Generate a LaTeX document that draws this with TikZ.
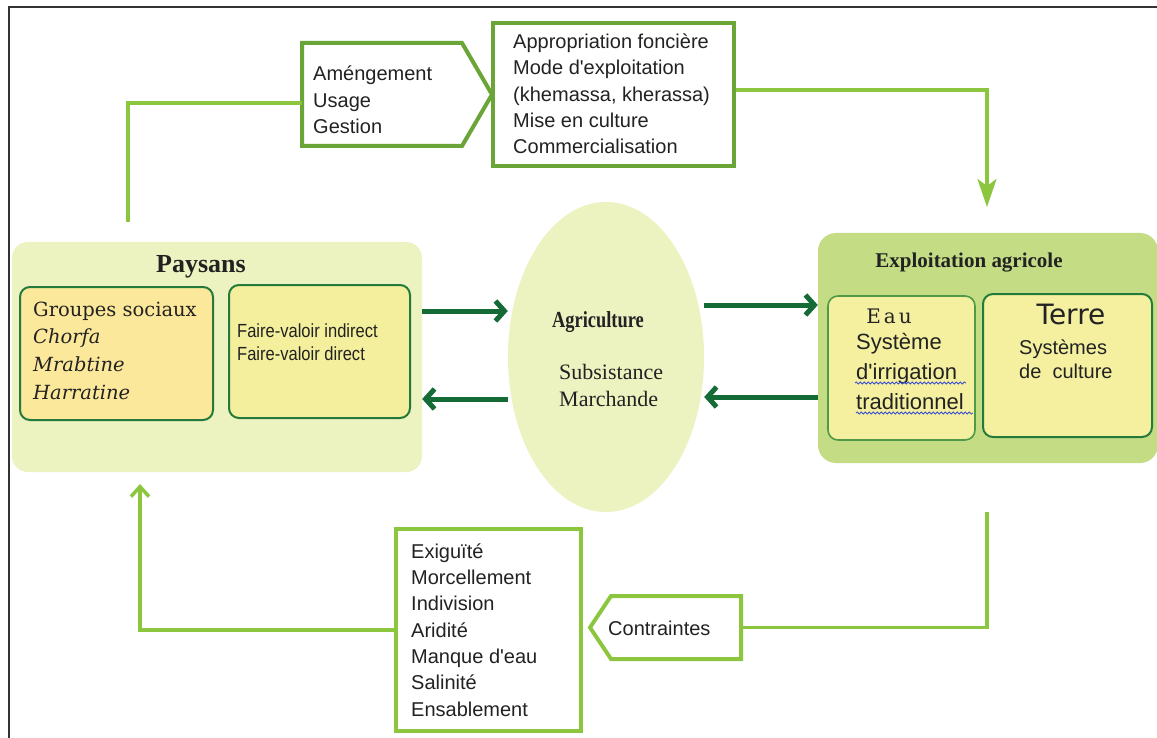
\documentclass[tikz,border=0pt]{standalone}
\usepackage{fontspec}
\setmainfont{Liberation Serif}
\newfontfamily\arial{Liberation Sans}
\newfontfamily\arialn[FakeStretch=0.87]{Liberation Sans}
\newfontfamily\dvserif{DejaVu Serif}
\newfontfamily\dvsans{DejaVu Sans}
\newfontfamily\timesn[FakeStretch=0.8]{Liberation Serif}
\usetikzlibrary{arrows.meta,shapes.geometric,calc,decorations.pathmorphing}
\definecolor{paysfill}{HTML}{ECF2C0}
\definecolor{explfill}{HTML}{C4DD85}
\definecolor{grpfill}{HTML}{FCE89A}
\definecolor{fairefill}{HTML}{F3EF9C}
\definecolor{eaufill}{HTML}{F4F0A0}
\definecolor{innergreen}{HTML}{237A3B}
\definecolor{eaugreen}{HTML}{4F9A48}
\definecolor{lightgreen}{HTML}{8CC63E}
\definecolor{boxgreen}{HTML}{6AA538}
\definecolor{darkgreen}{HTML}{146B35}
\definecolor{txtgray}{HTML}{222222}
\definecolor{spellblue}{HTML}{3A4FD0}
\begin{document}
\begin{tikzpicture}[x=1pt,y=-1pt,
  txt/.style={inner sep=0pt, align=left, text=txtgray, font=\arial\fontsize{20}{26.3}\selectfont},
  outlinebox/.style={rectangle, draw=boxgreen, line width=4pt, fill=white, inner sep=0pt},
  lightbox/.style={rectangle, draw=lightgreen, line width=4pt, fill=white, inner sep=0pt},
  innerbox/.style={rectangle, rounded corners=10pt, draw=innergreen, line width=2pt, inner sep=0pt},
  lconn/.style={draw=lightgreen, line width=3.5pt},
  darr/.style={draw=darkgreen, line width=5pt, -{Straight Barb[length=9pt,width=20pt]}},
  spell/.style={draw=spellblue, line width=0.8pt, decorate, decoration={snake, amplitude=1.1pt, segment length=4pt}}
]
\useasboundingbox (0,0) rectangle (1157,738);
\fill[white] (0,0) rectangle (1157,738);
\draw[line width=1.5pt, black!80] (9,738) -- (9,7) -- (1157,7);

% big containers
\node[rectangle, rounded corners=16pt, fill=paysfill, minimum width=410pt, minimum height=230pt, inner sep=0pt] (pays) at (217,357) {};
\node[ellipse, fill=paysfill, minimum width=196pt, minimum height=310pt, inner sep=0pt] (agri) at (606,357) {};
\node[rectangle, rounded corners=18pt, fill=explfill, minimum width=340pt, minimum height=230pt, inner sep=0pt] (expl) at (988,348) {};

% top boxes
\coordinate (amenW) at (302,103);
\draw[draw=boxgreen, line width=4pt, fill=white, line join=miter] (302,43) -- (462,43) -- (492,94.5) -- (462,146) -- (302,146) -- cycle;
\node[outlinebox, minimum width=241pt, minimum height=143pt] (appr) at (613.5,94.5) {};

% bottom boxes
\coordinate (contrE) at (743,627.5);
\draw[draw=lightgreen, line width=4pt, fill=white, line join=miter] (590,627.5) -- (611,596) -- (741,596) -- (741,659) -- (611,659) -- cycle;
\node[lightbox, minimum width=185pt, minimum height=202pt] (exig) at (488.5,630) {};

% inner boxes
\node[innerbox, fill=grpfill, minimum width=193pt, minimum height=133pt] (grp) at (116.5,353.5) {};
\node[innerbox, fill=fairefill, minimum width=181pt, minimum height=133pt] (faire) at (319.5,351.5) {};
\node[innerbox, draw=eaugreen, line width=1.6pt, fill=eaufill, minimum width=147pt, minimum height=144pt] (eau) at (901.5,368) {};
\node[innerbox, fill=eaufill, minimum width=169pt, minimum height=143pt] (terre) at (1067.5,365.5) {};

% texts
\node[txt, anchor=west] (amentxt) at (313,100) {Améngement\\Usage\\Gestion};
\node[txt, anchor=west] (apprtxt) at (513,94) {Appropriation foncière\\Mode d'exploitation\\(khemassa, kherassa)\\Mise en culture\\Commercialisation};
\node[inner sep=0pt, text=txtgray, font=\bfseries\fontsize{26}{30}\selectfont] (paystxt) at (201,267) {Paysans};
\node[inner sep=0pt, align=left, anchor=west, text=txtgray, font=\dvserif\fontsize{19.5}{27.7}\selectfont] (grptxt) at (33,350.5) {Groupes sociaux\\\textit{Chorfa}\\\textit{Mrabtine}\\\textit{Harratine}};
\node[inner sep=0pt, align=left, anchor=west, text=txtgray, font=\arialn\fontsize{19}{23}\selectfont] (fairetxt) at (237,342.5) {Faire-valoir indirect\\Faire-valoir direct};
\node[inner sep=0pt, text=txtgray, font=\timesn\bfseries\fontsize{23}{26}\selectfont] (agritxt) at (598,322) {Agriculture};
\node[inner sep=0pt, align=left, anchor=west, text=txtgray, font=\fontsize{22}{27}\selectfont] (agrisub) at (559,385.5) {Subsistance\\Marchande};
\node[inner sep=0pt, text=txtgray, font=\bfseries\fontsize{21}{24}\selectfont] (expltxt) at (969,263) {Exploitation agricole};
\node[inner sep=0pt, text=txtgray, font=\dvserif\fontsize{20}{22}\selectfont] (eautitle) at (889,316) {E\kern3pt a\kern3pt u};
\node[inner sep=0pt, align=left, anchor=west, text=txtgray, font=\arial\fontsize{22}{30}\selectfont] (eautxt) at (856,372) {Système\\d'irrigation\\traditionnel};
\node[inner sep=0pt, text=txtgray, font=\dvsans\fontsize{28}{30}\selectfont] (terretitle) at (1071,314) {Terre};
\node[inner sep=0pt, align=left, anchor=west, text=txtgray, font=\arial\fontsize{20}{24}\selectfont] (terretxt) at (1019,359) {Systèmes\\de\ \ culture};
\node[txt, anchor=west] (contrtxt) at (608,628) {Contraintes};
\node[txt, anchor=west] (exigtxt) at (411,630) {Exiguïté\\Morcellement\\Indivision\\Aridité\\Manque d'eau\\Salinité\\Ensablement};

% spell-check underlines
\draw[spell] (855,383) -- (966,383);
\draw[spell] (856,413) -- (973,413);

% light connectors
\coordinate (s1) at (128,222);
\draw[lconn] (s1) |- (amenW);
\coordinate (e1) at (987,207);
\draw[lconn, -{Stealth[length=28pt,width=19pt,inset=7pt]}] ($(appr.east)+(0,-4.5)$) -| (e1);
\coordinate (s2) at (987,512);
\draw[lconn] (s2) |- (contrE);
\coordinate (e2) at (140,484);
\draw[lconn, -{Straight Barb[length=10pt,width=18pt]}] (exig.west) -| (e2);

% dark arrows
\draw[darr] ([yshift=46pt]pays.east) -- ([yshift=46pt]agri.west);
\draw[darr] ([yshift=-42pt]agri.west) -- ([yshift=-42pt]pays.east);
\draw[darr] ([yshift=52pt]agri.east) -- ([yshift=43pt]expl.west);
\draw[darr] ([yshift=-49pt]expl.west) -- ([yshift=-40pt]agri.east);
\end{tikzpicture}
\end{document}
